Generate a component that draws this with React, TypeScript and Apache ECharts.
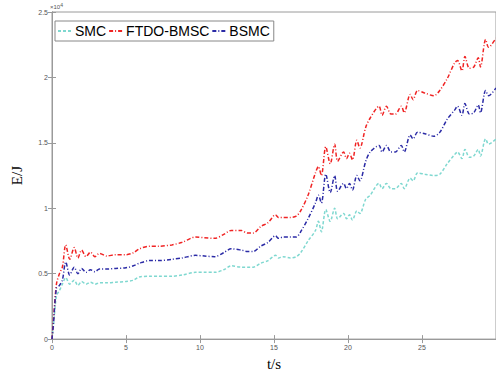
import React, { useEffect, useRef } from "react";
import * as echarts from "echarts";

const T = [0, 0.1, 0.3, 0.5, 0.7, 0.93, 1.2, 1.5, 1.75, 2.0, 2.3, 2.6, 2.9, 3.2, 3.7, 4.3, 5.0, 5.5, 5.9, 6.6, 7.2, 8.1, 8.8, 9.7, 10.3, 11.0, 11.6, 12.1, 12.8, 13.2, 13.6, 14.1, 14.6, 15.1, 15.3, 15.6, 16.1, 16.5, 16.8, 17.3, 17.8, 18.0, 18.2, 18.5, 18.8, 19.1, 19.3, 19.7, 19.9, 20.1, 20.3, 20.6, 20.8, 21.2, 21.5, 22.1, 22.3, 22.6, 22.9, 23.2, 23.6, 23.8, 24.2, 24.4, 24.7, 25.2, 25.8, 26.2, 26.7, 27.2, 27.4, 27.7, 27.9, 28.2, 28.5, 28.8, 28.95, 29.3, 29.5, 30];

const SMC = [0, 0.10, 0.33, 0.37, 0.42, 0.47, 0.42, 0.45, 0.41, 0.44, 0.42, 0.435, 0.42, 0.43, 0.43, 0.435, 0.44, 0.45, 0.475, 0.48, 0.48, 0.48, 0.49, 0.51, 0.51, 0.51, 0.53, 0.56, 0.55, 0.55, 0.55, 0.58, 0.60, 0.64, 0.62, 0.63, 0.62, 0.63, 0.66, 0.75, 0.83, 0.90, 0.82, 0.99, 0.90, 1.00, 0.92, 0.96, 0.92, 0.95, 0.91, 0.98, 0.96, 1.07, 1.10, 1.19, 1.15, 1.19, 1.15, 1.15, 1.19, 1.15, 1.23, 1.21, 1.27, 1.26, 1.25, 1.26, 1.34, 1.41, 1.43, 1.38, 1.45, 1.39, 1.40, 1.45, 1.40, 1.53, 1.49, 1.53];

const FTDO = [0, 0.15, 0.42, 0.50, 0.55, 0.72, 0.61, 0.70, 0.62, 0.68, 0.63, 0.665, 0.63, 0.655, 0.635, 0.645, 0.645, 0.66, 0.69, 0.71, 0.71, 0.72, 0.74, 0.78, 0.775, 0.77, 0.80, 0.83, 0.83, 0.81, 0.81, 0.86, 0.89, 0.95, 0.93, 0.93, 0.93, 0.94, 0.98, 1.10, 1.27, 1.32, 1.25, 1.47, 1.34, 1.49, 1.36, 1.43, 1.38, 1.42, 1.37, 1.52, 1.46, 1.62, 1.69, 1.78, 1.71, 1.78, 1.72, 1.72, 1.78, 1.73, 1.87, 1.83, 1.90, 1.88, 1.86, 1.90, 1.99, 2.11, 2.13, 2.05, 2.16, 2.07, 2.08, 2.15, 2.08, 2.29, 2.23, 2.30];

const BSMC = [0, 0.12, 0.39, 0.41, 0.45, 0.59, 0.49, 0.55, 0.50, 0.54, 0.51, 0.53, 0.515, 0.535, 0.535, 0.54, 0.545, 0.56, 0.58, 0.60, 0.60, 0.61, 0.62, 0.64, 0.635, 0.63, 0.66, 0.69, 0.68, 0.67, 0.67, 0.71, 0.74, 0.79, 0.77, 0.78, 0.78, 0.78, 0.82, 0.92, 1.04, 1.10, 1.04, 1.26, 1.12, 1.25, 1.13, 1.19, 1.15, 1.19, 1.14, 1.25, 1.21, 1.36, 1.43, 1.48, 1.43, 1.48, 1.43, 1.43, 1.48, 1.43, 1.56, 1.53, 1.58, 1.57, 1.55, 1.58, 1.68, 1.75, 1.78, 1.71, 1.80, 1.72, 1.73, 1.79, 1.73, 1.90, 1.86, 1.92];

const NAMES = ["SMC", "FTDO-BMSC", "BSMC"];

export default function App() {
  const ref = useRef<HTMLDivElement>(null);
  useEffect(() => {
    const chart = echarts.init(ref.current!, null, { renderer: "svg" });
    const axisGray = "#9a9a9a";
    const labelStyle = { fontSize: 7, color: "#555", fontFamily: "Liberation Sans" };
    const serif = "'Liberation Serif', 'DejaVu Serif', 'Times New Roman', serif";
    const mk = (name: string, vals: number[], color: string, dash: number[]) => ({
      name,
      type: "line",
      data: T.map((t, i) => [t, vals[i]]),
      symbol: "none",
      smooth: 0.3,
      lineStyle: { color, width: 1.5, type: dash },
      itemStyle: { color },
    });
    chart.setOption({
      animation: false,
      backgroundColor: "#fff",
      grid: { left: 52, top: 12, width: 448, height: 335, show: true, borderColor: axisGray, borderWidth: 1 },
      legend: {
        left: 55,
        top: 21,
        data: NAMES,
        orient: "horizontal",
        backgroundColor: "#fff",
        borderColor: "#888",
        borderWidth: 1,
        borderRadius: 0,
        padding: [3, 4, 3, 2],
        itemGap: 2,
        itemWidth: 15,
        itemHeight: 10,
        itemStyle: { opacity: 0 },
        textStyle: { fontSize: 14, color: "#000", fontFamily: "Liberation Sans", padding: [0, 0, 0, -3] },
      },
      xAxis: [
        {
          type: "value",
          min: 0,
          max: 30,
          interval: 5,
          name: "t/s",
          nameLocation: "middle",
          nameGap: 12,
          nameTextStyle: { fontSize: 15, fontFamily: serif, color: "#000" },
          axisLine: { show: true, lineStyle: { color: axisGray } },
          axisTick: { inside: true, length: 4, lineStyle: { color: axisGray } },
          axisLabel: { ...labelStyle, margin: 5, showMaxLabel: false },
          splitLine: { show: false },
        },
        {
          type: "value",
          position: "top",
          min: 0,
          max: 30,
          interval: 5,
          axisLine: { show: true, lineStyle: { color: axisGray } },
          axisTick: { inside: true, length: 4, lineStyle: { color: axisGray } },
          axisLabel: { show: false },
          splitLine: { show: false },
        },
      ],
      yAxis: [
        {
          type: "value",
          min: 0,
          max: 2.5,
          interval: 0.5,
          name: "E/J",
          nameLocation: "middle",
          nameGap: 28,
          nameTextStyle: { fontSize: 15, fontFamily: serif, color: "#000" },
          axisLine: { show: true, lineStyle: { color: axisGray } },
          axisTick: { inside: true, length: 4, lineStyle: { color: axisGray } },
          axisLabel: { ...labelStyle, margin: 4 },
          splitLine: { show: false },
        },
        {
          type: "value",
          position: "right",
          min: 0,
          max: 2.5,
          interval: 0.5,
          axisLine: { show: true, lineStyle: { color: axisGray } },
          axisTick: { inside: true, length: 4, lineStyle: { color: axisGray } },
          axisLabel: { show: false },
          splitLine: { show: false },
        },
      ],
      graphic: [
        {
          type: "text",
          left: 50,
          top: 2,
          style: {
            text: "{a|×10}{b|4}",
            rich: {
              a: { fontSize: 6, fill: "#555", fontFamily: "Liberation Sans" },
              b: { fontSize: 5, fill: "#555", fontFamily: "Liberation Sans", verticalAlign: "top", padding: [0, 0, 4, 0] },
            },
          },
        },
      ],
      series: [
        mk(NAMES[0], SMC, "#7fd8d0", [3, 2]),
        mk(NAMES[1], FTDO, "#f02424", [4, 2, 1, 2]),
        mk(NAMES[2], BSMC, "#2b2ba6", [4, 2, 1, 2]),
      ],
    });
    return () => chart.dispose();
  }, []);
  return <div ref={ref} style={{ position: "fixed", left: 0, top: 0, width: 496, height: 376 }} />;
}
